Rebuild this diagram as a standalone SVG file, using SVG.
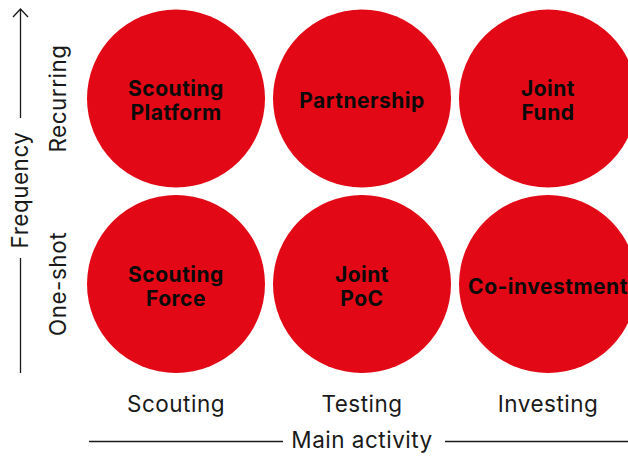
<svg xmlns="http://www.w3.org/2000/svg" width="628" height="456" viewBox="0 0 628 456">
<style>
.c{fill:#E20815}
.n{font-family:Inter,"Liberation Sans",sans-serif;font-weight:700;font-size:21px;letter-spacing:0.5px;fill:#0a0a0a;text-anchor:middle}
.l{font-family:Inter,"Liberation Sans",sans-serif;font-size:22.5px;letter-spacing:0.5px;fill:#1a1a1a;text-anchor:middle}
.ax{stroke:#1a1a1a;stroke-width:1.3;fill:none}
</style>
<rect width="628" height="456" fill="#fff"/>
<g id="axes">
<path class="ax" d="M20.5,9 V118 M20.5,258 V373 M13,17 L20.5,9 L28,17"/>
<path class="ax" d="M89,441.5 H283 M445,441.5 H628"/>
</g>
<g id="axis-labels">
<text class="l" transform="translate(28,190) rotate(-90)">Frequency</text>
<text class="l" transform="translate(66,98.5) rotate(-90)">Recurring</text>
<text class="l" transform="translate(66,284) rotate(-90)">One-shot</text>
<text class="l" x="176" y="412">Scouting</text>
<text class="l" x="362" y="412">Testing</text>
<text class="l" x="548" y="412">Investing</text>
<text class="l" x="362" y="448">Main activity</text>
</g>
<g id="scouting-platform"><circle class="c" cx="176" cy="98.5" r="89"/><text class="n" x="176" y="96">Scouting</text><text class="n" x="176" y="120">Platform</text></g>
<g id="partnership"><circle class="c" cx="362" cy="98.5" r="89"/><text class="n" x="362" y="108">Partnership</text></g>
<g id="joint-fund"><circle class="c" cx="548" cy="98.5" r="89"/><text class="n" x="548" y="96">Joint</text><text class="n" x="548" y="120">Fund</text></g>
<g id="scouting-force"><circle class="c" cx="176" cy="284" r="89"/><text class="n" x="176" y="281.5">Scouting</text><text class="n" x="176" y="305.5">Force</text></g>
<g id="joint-poc"><circle class="c" cx="362" cy="284" r="89"/><text class="n" x="362" y="281.5">Joint</text><text class="n" x="362" y="305.5">PoC</text></g>
<g id="co-investment"><circle class="c" cx="548" cy="284" r="89"/><text class="n" x="548" y="293.5">Co-investment</text></g>
</svg>
